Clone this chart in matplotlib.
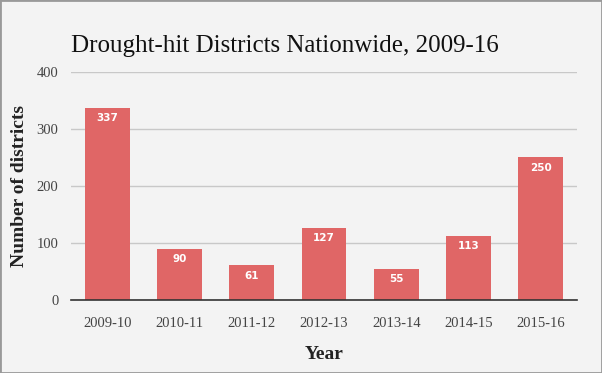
import matplotlib
matplotlib.use("Agg")
import matplotlib.pyplot as plt
from matplotlib.patches import Rectangle

years = ["2009-10", "2010-11", "2011-12", "2012-13", "2013-14", "2014-15", "2015-16"]
districts = [337, 90, 61, 127, 55, 113, 250]
yticks = [0, 100, 200, 300, 400]

bg = "#f3f3f3"
bar_color = "#e06666"
serif = ["Liberation Serif", "DejaVu Serif"]

fig = plt.figure(figsize=(6.02, 3.73), dpi=100, facecolor=bg)
ax = fig.add_axes([71/602, (373-300)/373, (577-71)/602, (300-72)/373])
ax.set_facecolor(bg)

x = list(range(len(years)))
bars = ax.bar(x, districts, width=0.62, color=bar_color, zorder=3)
for xi, v in zip(x, districts):
    ax.annotate(str(v), (xi, v), xytext=(0, -4), textcoords="offset points",
                ha="center", va="top", color="white", fontsize=7.5,
                fontweight="bold", family=["DejaVu Sans"], zorder=4)

ax.set_xlim(-0.5, len(years) - 0.5)
ax.set_ylim(0, 400)
ax.set_yticks(yticks)
ax.set_xticks(x)
ax.set_xticklabels(years)
ax.grid(axis="y", color="#c8c8c8", linewidth=1, zorder=0)
for s in ["top", "right", "left"]:
    ax.spines[s].set_visible(False)
ax.spines["bottom"].set_color("#333333")
ax.spines["bottom"].set_linewidth(1.2)
ax.spines["bottom"].set_zorder(5)
ax.tick_params(axis="both", length=0, labelcolor="#444444", labelsize=10.5)
ax.tick_params(axis="x", pad=12)
ax.tick_params(axis="y", pad=9)
for lab in ax.get_xticklabels() + ax.get_yticklabels():
    lab.set_family(serif)

ax.set_ylabel("Number of districts", family=serif, fontsize=14, fontweight="bold",
              color="#222222")
ax.set_xlabel("Year", family=serif, fontsize=14, fontweight="bold",
              color="#222222", labelpad=12)
ax.yaxis.set_label_coords(-(71-28)/506, 0.5)

fig.text(71/602, 1 - 52/373, "Drought-hit Districts Nationwide, 2009-16",
         family=serif, fontsize=18, color="#111111", ha="left", va="baseline")

fig.patches.append(Rectangle((0, 0), 1, 1, transform=fig.transFigure, fill=False,
                             edgecolor="#999999", linewidth=2, zorder=10))

fig.savefig("out.png", dpi=100, facecolor=bg)
